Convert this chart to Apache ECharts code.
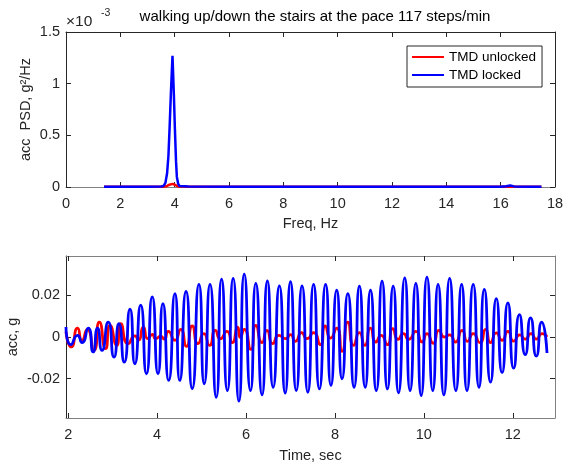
<!DOCTYPE html>
<html>
<head>
<meta charset="utf-8">
<script src="https://cdn.jsdelivr.net/npm/echarts@6/dist/echarts.min.js"></script>
<style>
html,body{margin:0;padding:0;background:#fff}
#main{width:573px;height:464px}
</style>
</head>
<body>
<div id="main"></div>
<script>
// PSD (values in 1e-3 g^2/Hz)
var psdFreq = [1.4, 2.0, 3.0, 3.5, 3.59, 3.66, 3.72, 3.77, 3.81, 3.86, 3.92, 3.97, 4.01, 4.05, 4.08, 4.13, 4.18, 4.5, 6, 8, 10, 12, 14, 16, 16.2, 16.35, 16.5, 17, 17.5];
var psdUnlocked = [0.002, 0.002, 0.002, 0.002, 0.003, 0.006, 0.010, 0.016, 0.022, 0.027, 0.030, 0.028, 0.022, 0.014, 0.008, 0.004, 0.002, 0.002, 0.002, 0.002, 0.002, 0.002, 0.002, 0.002, 0.003, 0.004, 0.002, 0.002, 0.002];
var psdLocked = [0.003, 0.002, 0.003, 0.005, 0.010, 0.040, 0.130, 0.300, 0.550, 0.900, 1.270, 0.900, 0.550, 0.250, 0.100, 0.030, 0.010, 0.004, 0.003, 0.003, 0.003, 0.003, 0.003, 0.003, 0.008, 0.015, 0.006, 0.003, 0.003];

// acceleration time history, turning points (g)
var lockedT = [1.95, 2.06, 2.21, 2.31, 2.45, 2.56, 2.66, 2.76, 2.90, 3.03, 3.14, 3.26, 3.39, 3.50, 3.63, 3.76, 3.89, 4.02, 4.13, 4.26, 4.40, 4.51, 4.65, 4.79, 4.94, 5.06, 5.19, 5.33, 5.45, 5.58, 5.71, 5.84, 5.96, 6.10, 6.22, 6.36, 6.48, 6.61, 6.75, 6.88, 7.00, 7.13, 7.26, 7.39, 7.52, 7.65, 7.79, 7.91, 8.04, 8.16, 8.29, 8.43, 8.55, 8.68, 8.80, 8.93, 9.06, 9.18, 9.31, 9.43, 9.57, 9.69, 9.82, 9.94, 10.07, 10.20, 10.32, 10.45, 10.58, 10.72, 10.85, 10.97, 11.11, 11.24, 11.36, 11.50, 11.63, 11.76, 11.89, 12.02, 12.15, 12.28, 12.40, 12.53, 12.65, 12.77];
var lockedAcc = [0.0048, -0.0037, 0.0008, -0.0027, 0.0043, -0.0072, 0.0043, -0.0064, 0.0072, -0.0097, 0.0064, -0.0121, 0.0134, -0.0129, 0.0153, -0.0177, 0.0193, -0.0177, 0.0161, -0.0209, 0.0209, -0.0209, 0.0219, -0.0248, 0.0253, -0.0225, 0.0253, -0.0290, 0.0279, -0.0258, 0.0282, -0.0309, 0.0303, -0.0258, 0.0258, -0.0279, 0.0270, -0.0242, 0.0246, -0.0270, 0.0266, -0.0258, 0.0246, -0.0266, 0.0253, -0.0250, 0.0253, -0.0233, 0.0225, -0.0201, 0.0209, -0.0242, 0.0245, -0.0242, 0.0225, -0.0258, 0.0269, -0.0250, 0.0245, -0.0269, 0.0285, -0.0258, 0.0258, -0.0282, 0.0288, -0.0258, 0.0253, -0.0279, 0.0282, -0.0258, 0.0253, -0.0258, 0.0253, -0.0242, 0.0229, -0.0217, 0.0185, -0.0172, 0.0164, -0.0150, 0.0108, -0.0085, 0.0092, -0.0092, 0.0072, -0.0077];

var unlockedT = [1.95, 2.07, 2.21, 2.31, 2.43, 2.58, 2.70, 2.84, 2.94, 3.09, 3.18, 3.35, 3.50, 3.58, 3.69, 3.79, 3.89, 3.97, 4.08, 4.16, 4.25, 4.40, 4.53, 4.66, 4.79, 4.92, 5.05, 5.18, 5.31, 5.42, 5.57, 5.69, 5.81, 5.87, 5.96, 6.11, 6.22, 6.36, 6.47, 6.60, 6.74, 6.89, 7.00, 7.11, 7.25, 7.37, 7.52, 7.67, 7.78, 7.90, 8.04, 8.16, 8.29, 8.42, 8.55, 8.67, 8.80, 8.92, 9.04, 9.18, 9.30, 9.42, 9.54, 9.66, 9.82, 9.96, 10.07, 10.21, 10.34, 10.46, 10.58, 10.71, 10.86, 10.98, 11.11, 11.26, 11.39, 11.50, 11.63, 11.76, 11.89, 12.02, 12.16, 12.28, 12.41, 12.53, 12.66, 12.77];
var unlockedAcc = [0.0025, -0.0048, 0.0043, -0.0016, 0.0037, -0.0064, 0.0072, -0.0056, 0.0056, -0.0040, 0.0064, -0.0032, 0.0005, -0.0015, 0.0048, -0.0008, 0.0012, -0.0008, 0.0004, -0.0010, 0.0027, -0.0016, 0.0037, -0.0045, 0.0053, -0.0032, 0.0016, -0.0040, 0.0032, -0.0008, 0.0027, -0.0027, 0.0048, -0.0002, 0.0037, -0.0060, 0.0056, -0.0027, 0.0032, -0.0032, 0.0008, -0.0008, 0.0011, -0.0021, 0.0021, -0.0008, 0.0021, -0.0037, 0.0053, -0.0005, 0.0043, -0.0069, 0.0072, -0.0040, 0.0021, -0.0040, 0.0043, -0.0024, 0.0008, -0.0037, 0.0040, -0.0011, 0.0016, -0.0011, 0.0027, -0.0024, 0.0016, -0.0030, 0.0032, 0.0000, 0.0010, -0.0024, 0.0032, -0.0021, 0.0016, -0.0027, 0.0037, -0.0027, 0.0020, -0.0016, 0.0027, -0.0020, 0.0010, -0.0010, 0.0016, -0.0010, 0.0016, 0.0000];

var psdTicks = [0, 0.5, 1, 1.5];
var timeTicks = [2, 4, 6, 8, 10, 12];
var accTicks = [-0.02, 0, 0.02];

function zip(a, b) {
    var out = [];
    for (var i = 0; i < a.length; i++) out.push([a[i], b[i]]);
    return out;
}

var FONT = 'Liberation Sans, Arial, Helvetica, sans-serif';
var DARK = '#262626';
var GREY = '#808080';

function frameAxis(grid, pos, min, max, ticks, color) {
    return {
        type: 'value', gridIndex: grid, position: pos, min: min, max: max,
        axisLine: { show: true, onZero: false, lineStyle: { color: color, width: 1 } },
        axisTick: { show: true, inside: true, length: 5, customValues: ticks, lineStyle: { color: DARK } },
        axisLabel: { show: false, customValues: ticks },
        splitLine: { show: false }
    };
}

var myChart = echarts.init(document.getElementById('main'), null, { renderer: 'canvas' });
var option = {
    animation: false,
    backgroundColor: '#fff',
    textStyle: { fontFamily: FONT },
    title: {
        text: 'walking up/down the stairs at the pace 117 steps/min',
        left: 310, top: 4, textAlign: 'center',
        textStyle: { fontSize: 15, fontWeight: 'normal', color: '#000', fontFamily: FONT }
    },
    graphic: [
        { type: 'text', left: 66, top: 14, style: { text: '×10', fontSize: 15.5, fill: DARK, fontFamily: FONT } },
        { type: 'text', left: 101, top: 8, style: { text: '-3', fontSize: 10.5, fill: DARK, fontFamily: FONT } }
    ],
    legend: {
        data: ['TMD unlocked', 'TMD locked'],
        orient: 'vertical', left: 407, top: 46,
        backgroundColor: '#fff', borderColor: DARK, borderWidth: 1,
        padding: [4, 6, 5, 5], itemGap: 4,
        icon: 'rect', itemWidth: 32, itemHeight: 2,
        selectedMode: false,
        textStyle: { fontSize: 13.5, color: '#000', fontFamily: FONT }
    },
    grid: [
        { left: 66, right: 18, top: 32, height: 155, outerBoundsMode: 'none', containLabel: false },
        { left: 66, right: 18, top: 256, height: 162, outerBoundsMode: 'none', containLabel: false }
    ],
    xAxis: [
        {
            type: 'value', gridIndex: 0, position: 'bottom', min: 0, max: 18, interval: 2,
            name: 'Freq, Hz', nameLocation: 'middle', nameGap: 29, nameMoveOverlap: false,
            nameTextStyle: { fontSize: 14.5, color: DARK, fontFamily: FONT },
            axisLine: { show: true, onZero: false, lineStyle: { color: GREY } },
            axisTick: { show: true, inside: true, length: 5, lineStyle: { color: DARK } },
            axisLabel: { fontSize: 14.5, color: DARK, margin: 9, fontFamily: FONT },
            splitLine: { show: false }
        },
        frameAxis(0, 'top', 0, 18, [0, 2, 4, 6, 8, 10, 12, 14, 16, 18], DARK),
        {
            type: 'value', gridIndex: 1, position: 'bottom', min: 1.95, max: 12.95,
            name: 'Time, sec', nameLocation: 'middle', nameGap: 30, nameMoveOverlap: false,
            nameTextStyle: { fontSize: 14.5, color: DARK, fontFamily: FONT },
            axisLine: { show: true, onZero: false, lineStyle: { color: GREY } },
            axisTick: { show: true, inside: true, length: 5, customValues: timeTicks, lineStyle: { color: DARK } },
            axisLabel: { fontSize: 14.5, color: DARK, margin: 9, customValues: timeTicks, fontFamily: FONT },
            splitLine: { show: false }
        },
        frameAxis(1, 'top', 1.95, 12.95, timeTicks, GREY)
    ],
    yAxis: [
        {
            type: 'value', gridIndex: 0, position: 'left', min: 0, max: 1.5, interval: 0.5,
            name: 'acc  PSD, g²/Hz', nameLocation: 'middle', nameGap: 33, nameRotate: 90, nameMoveOverlap: false,
            nameTextStyle: { fontSize: 14.5, color: DARK, fontFamily: FONT },
            axisLine: { show: true, onZero: false, lineStyle: { color: DARK } },
            axisTick: { show: true, inside: true, length: 5, lineStyle: { color: DARK } },
            axisLabel: { fontSize: 14.5, color: DARK, margin: 6, fontFamily: FONT },
            splitLine: { show: false }
        },
        frameAxis(0, 'right', 0, 1.5, psdTicks, DARK),
        {
            type: 'value', gridIndex: 1, position: 'left', min: -0.039, max: 0.039,
            name: 'acc, g', nameLocation: 'middle', nameGap: 46, nameRotate: 90, nameMoveOverlap: false,
            nameTextStyle: { fontSize: 14.5, color: DARK, fontFamily: FONT },
            axisLine: { show: true, onZero: false, lineStyle: { color: DARK } },
            axisTick: { show: true, inside: true, length: 5, customValues: accTicks, lineStyle: { color: DARK } },
            axisLabel: { fontSize: 14.5, color: DARK, margin: 6, customValues: accTicks, fontFamily: FONT },
            splitLine: { show: false }
        },
        frameAxis(1, 'right', -0.039, 0.039, accTicks, GREY)
    ],
    series: [
        {
            name: 'TMD unlocked', type: 'line', xAxisIndex: 0, yAxisIndex: 0,
            data: zip(psdFreq, psdUnlocked), showSymbol: false,
            lineStyle: { color: '#ff0000', width: 2.5 }, itemStyle: { color: '#ff0000' }
        },
        {
            name: 'TMD locked', type: 'line', xAxisIndex: 0, yAxisIndex: 0,
            data: zip(psdFreq, psdLocked), showSymbol: false,
            lineStyle: { color: '#0000ff', width: 2.5 }, itemStyle: { color: '#0000ff' }
        },
        {
            name: 'TMD unlocked', type: 'line', xAxisIndex: 2, yAxisIndex: 2,
            data: zip(unlockedT, unlockedAcc), showSymbol: false, smooth: 0.7,
            lineStyle: { color: '#ff0000', width: 2.8 }, itemStyle: { color: '#ff0000' }
        },
        {
            name: 'TMD locked', type: 'line', xAxisIndex: 2, yAxisIndex: 2,
            data: zip(lockedT, lockedAcc), showSymbol: false, smooth: 0.7,
            lineStyle: { color: '#0000ff', width: 2.8 }, itemStyle: { color: '#0000ff' }
        }
    ]
};
myChart.setOption(option);
</script>
</body>
</html>
